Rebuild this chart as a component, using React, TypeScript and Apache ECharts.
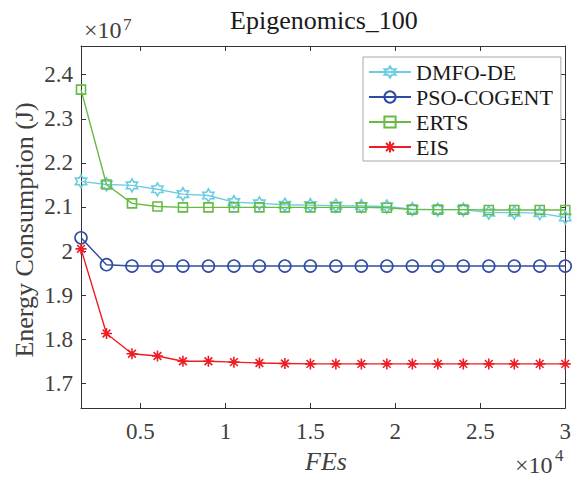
import React, { useEffect, useRef } from "react";
import * as echarts from "echarts";

const fes = [1500, 3000, 4500, 6000, 7500, 9000, 10500, 12000, 13500, 15000, 16500, 18000, 19500, 21000, 22500, 24000, 25500, 27000, 28500, 30000];
// Energy consumption, in units of 1e7 J
const dmfoDe = [2.158, 2.151, 2.149, 2.140, 2.129, 2.126, 2.111, 2.108, 2.105, 2.104, 2.103, 2.102, 2.101, 2.095, 2.094, 2.094, 2.087, 2.087, 2.086, 2.076];
const psoCogent = [2.030, 1.969, 1.966, 1.966, 1.966, 1.966, 1.966, 1.966, 1.966, 1.966, 1.966, 1.966, 1.966, 1.966, 1.966, 1.966, 1.966, 1.966, 1.966, 1.966];
const erts = [2.366, 2.151, 2.108, 2.101, 2.099, 2.099, 2.099, 2.099, 2.099, 2.099, 2.099, 2.099, 2.098, 2.094, 2.094, 2.094, 2.093, 2.093, 2.093, 2.093];
const eis = [2.005, 1.813, 1.767, 1.762, 1.750, 1.750, 1.748, 1.746, 1.745, 1.744, 1.744, 1.744, 1.744, 1.744, 1.744, 1.744, 1.744, 1.744, 1.744, 1.744];

const seriesNames = ["DMFO-DE", "PSO-COGENT", "ERTS", "EIS"];
const xTicks = [5000, 10000, 15000, 20000, 25000, 30000];
const yTicks = [1.7, 1.8, 1.9, 2.0, 2.1, 2.2, 2.3, 2.4];
const titleText = "Epigenomics_100";

const FONT = "Liberation Serif";
const hexagram = "path://M50,0 L64.43,25 L93.3,25 L78.87,50 L93.3,75 L64.43,75 L50,100 L35.57,75 L6.7,75 L21.13,50 L6.7,25 L35.57,25 Z";
const asterisk = "path://M50,0 L50,100 M0,50 L100,50 M15,15 L85,85 M15,85 L85,15";

export default function App() {
  const ref = useRef<HTMLDivElement>(null);
  useEffect(() => {
    if (!ref.current) return;
    const chart = echarts.init(ref.current, null, { renderer: "svg" });
    const colors = ["#6ccde0", "#2f4ca3", "#66bb44", "#ee1d25"];
    const symbols = [hexagram, "circle", "rect", asterisk];
    const sizes = [13, 12, 9, 11];
    const datas = [dmfoDe, psoCogent, erts, eis];
    const axisLine = { show: true, lineStyle: { color: "#333333", width: 1 } };
    const tick = (vals: number[]) => ({ show: true, inside: true, length: 5, customValues: vals, lineStyle: { color: "#333333" } });
    const xBase = { type: "value", min: 1500, max: 30000, splitLine: { show: false }, axisLine };
    const yBase = { type: "value", min: 1.644, max: 2.465, splitLine: { show: false }, axisLine };
    chart.setOption({
      animation: false,
      textStyle: { fontFamily: FONT },
      grid: { left: 81, top: 46, right: 8, bottom: 73 },
      xAxis: [
        {
          ...xBase,
          position: "bottom",
          axisTick: tick(xTicks),
          axisLabel: {
            show: true, customValues: xTicks, margin: 12, fontFamily: FONT, fontSize: 23, color: "#404040",
            formatter: (v: number) => String(v / 10000),
          },
        },
        { ...xBase, position: "top", axisTick: tick(xTicks), axisLabel: { show: false } },
      ],
      yAxis: [
        {
          ...yBase,
          position: "left",
          axisTick: tick(yTicks),
          axisLabel: {
            show: true, customValues: yTicks, margin: 8, fontFamily: FONT, fontSize: 23, color: "#404040",
            formatter: (v: number) => String(Math.round(v * 10) / 10),
          },
        },
        { ...yBase, position: "right", axisTick: tick(yTicks), axisLabel: { show: false } },
      ],
      legend: {
        orient: "vertical",
        left: 363,
        top: 57,
        padding: [3, 8, 2, 5],
        itemWidth: 42,
        itemHeight: 14,
        itemGap: 1,
        backgroundColor: "#ffffff",
        borderColor: "#a8a8a8",
        borderWidth: 1,
        borderRadius: 0,
        data: seriesNames,
        textStyle: { fontFamily: FONT, fontSize: 22, color: "#1a1a1a", lineHeight: 24 },
      },
      series: seriesNames.map((name, i) => ({
        name,
        type: "line",
        xAxisIndex: 0,
        yAxisIndex: 0,
        data: fes.map((x, j) => [x, datas[i][j]]),
        symbol: symbols[i],
        symbolSize: sizes[i],
        symbolKeepAspect: true,
        showAllSymbol: true,
        color: colors[i],
        lineStyle: { color: colors[i], width: 1.4 },
        itemStyle: { color: "rgba(255,255,255,0)", borderColor: colors[i], borderWidth: 1.6 },
        emphasis: { disabled: true },
        z: 2 + i,
      })),
      graphic: [
        { type: "text", x: 24, y: 230, rotation: Math.PI / 2, style: { text: "Energy Consumption (J)", fontFamily: FONT, fontSize: 26, fill: "#404040", align: "center", verticalAlign: "middle" } },
        { type: "text", x: 326, y: 461, style: { text: "FEs", fontFamily: FONT, fontSize: 26, fontStyle: "italic", fill: "#404040", align: "center", verticalAlign: "middle" } },
        { type: "text", x: 84, y: 30, style: { text: "×10", fontFamily: FONT, fontSize: 24, fill: "#404040", align: "left", verticalAlign: "middle" } },
        { type: "text", x: 123, y: 24, style: { text: "7", fontFamily: FONT, fontSize: 17, fill: "#404040", align: "left", verticalAlign: "middle" } },
        { type: "text", x: 515, y: 465, style: { text: "×10", fontFamily: FONT, fontSize: 24, fill: "#404040", align: "left", verticalAlign: "middle" } },
        { type: "text", x: 555, y: 455, style: { text: "4", fontFamily: FONT, fontSize: 17, fill: "#404040", align: "left", verticalAlign: "middle" } },
      ],
    });
    return () => chart.dispose();
  }, []);
  return (
    <div style={{ position: "absolute", left: 0, top: 0, width: 574, height: 481, background: "#fff" }}>
      <div ref={ref} style={{ position: "absolute", left: 0, top: 0, width: 574, height: 481 }} />
      <div
        style={{
          position: "absolute", left: 124, top: 8, width: 400, textAlign: "center",
          fontFamily: FONT, fontSize: 26, lineHeight: "26px", color: "#1a1a1a", whiteSpace: "nowrap",
        }}
      >
        {titleText}
      </div>
    </div>
  );
}
